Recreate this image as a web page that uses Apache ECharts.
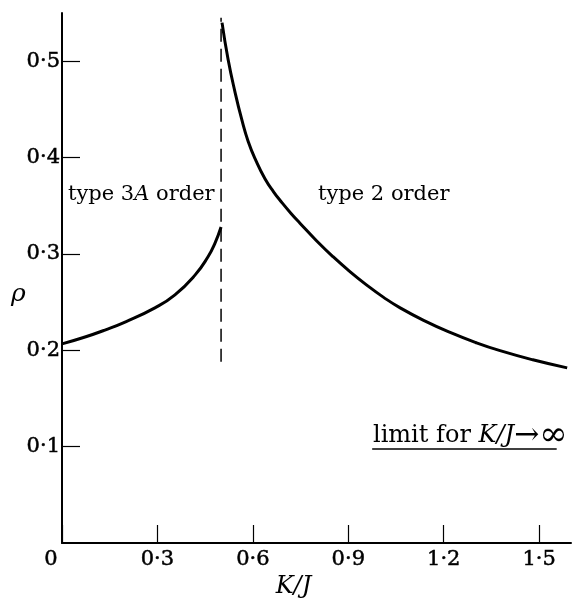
<!DOCTYPE html>
<html>
<head>
<meta charset="utf-8">
<script src="https://cdn.jsdelivr.net/npm/echarts@6/dist/echarts.min.js"></script>
<style>html,body{margin:0;padding:0;background:#fff}#c{width:575px;height:605px}</style>
</head>
<body>
<div id="c"></div>
<script>
// K/J values and rho values
const kLeft = [0, 0.07, 0.135, 0.2, 0.292, 0.355, 0.418, 0.459, 0.48, 0.5];
const rhoLeft = [0.2066, 0.2135, 0.221, 0.2295, 0.244, 0.2575, 0.278, 0.297, 0.3105, 0.328];
const kRight = [0.503, 0.522, 0.544, 0.565, 0.585, 0.61, 0.638, 0.665, 0.692, 0.72, 0.748, 0.80, 0.852, 0.905, 0.959, 1.011, 1.063, 1.14, 1.22, 1.30, 1.377, 1.48, 1.588];
const rhoRight = [0.540, 0.502, 0.4677, 0.4395, 0.4170, 0.3965, 0.3780, 0.3645, 0.3530, 0.3420, 0.3319, 0.3137, 0.2971, 0.2817, 0.2674, 0.2549, 0.2440, 0.2305, 0.2185, 0.2081, 0.1996, 0.1901, 0.1817];
const kBoundary = [0.5, 0.5];
const rhoBoundary = [0.188, 0.545];
const kLimit = [0.975, 1.555];
const rhoLimit = [0.0976, 0.0976];
const xTicks = [0, 0.3, 0.6, 0.9, 1.2, 1.5];
const yTicks = [0.1, 0.2, 0.3, 0.4, 0.5];

const zip = (a, b) => a.map((v, i) => [v, b[i]]);
const fmt = v => (Math.abs(v) < 1e-9 ? '{z|0}' : v.toFixed(1).replace('.', '\u00B7'));
const SERIF = '"DejaVu Serif", "Liberation Serif", serif';
const labelStyle = {fontFamily: SERIF, fontSize: 21, color: '#000', textBorderColor: '#000', textBorderWidth: 0.5};

const chart = echarts.init(document.getElementById('c'), null, {renderer: 'canvas'});
chart.setOption({
  animation: false,
  backgroundColor: '#fff',
  grid: {left: 62, right: 4, top: 13, bottom: 62, containLabel: false},
  xAxis: {
    type: 'value', min: 0, max: 1.6,
    name: 'K/J', nameLocation: 'middle', nameGap: 30,
    nameTextStyle: {fontFamily: SERIF, fontStyle: 'italic', fontSize: 24, color: '#000', padding: [0, 46, 0, 0]},
    axisLine: {show: true, lineStyle: {color: '#000', width: 2}},
    axisTick: {show: true, inside: true, length: 18, customValues: xTicks, lineStyle: {color: '#000', width: 1.2}},
    axisLabel: Object.assign({customValues: xTicks, formatter: fmt, margin: 6,
      rich: {z: Object.assign({}, labelStyle, {padding: [0, 22, 0, 0]})}}, labelStyle),
    splitLine: {show: false}
  },
  yAxis: {
    type: 'value', min: 0, max: 0.55,
    axisLine: {show: true, lineStyle: {color: '#000', width: 2}},
    axisTick: {show: true, inside: true, length: 18, customValues: yTicks, lineStyle: {color: '#000', width: 1.2}},
    axisLabel: Object.assign({customValues: yTicks, formatter: fmt, margin: 2}, labelStyle),
    splitLine: {show: false}
  },
  series: [
    {type: 'line', data: zip(kLeft, rhoLeft), smooth: 0.5, symbol: 'none', lineStyle: {color: '#000', width: 3}},
    {type: 'line', data: zip(kRight, rhoRight), smooth: 0.5, symbol: 'none', lineStyle: {color: '#000', width: 3}},
    {type: 'line', data: zip(kBoundary, rhoBoundary), symbol: 'none', lineStyle: {color: '#000', width: 1.5, type: [13, 7]}},
    {type: 'line', data: zip(kLimit, rhoLimit), symbol: 'none', lineStyle: {color: '#000', width: 1.5}}
  ],
  graphic: [
    {type: 'text', left: 11, top: 282, style: {text: '\u03C1', font: 'italic 25px ' + SERIF, fill: '#000'}},
    {type: 'text', left: 68, top: 184, style: {
      text: 'type 3{i|A} order', font: '21px ' + SERIF, fill: '#000',
      rich: {i: {fontFamily: SERIF, fontSize: 21, fontStyle: 'italic', fill: '#000'}}
    }},
    {type: 'text', left: 318, top: 184, style: {text: 'type 2 order', font: '21px ' + SERIF, fill: '#000'}},
    {type: 'text', left: 373, top: 419, style: {
      text: 'limit for {i|K/J}{a|\u2192}{b|\u221E}', font: '24px ' + SERIF, fill: '#000',
      rich: {
        i: {fontFamily: SERIF, fontSize: 24, fontStyle: 'italic', fill: '#000'},
        a: {fontFamily: SERIF, fontSize: 30, fill: '#000'},
        b: {fontFamily: SERIF, fontSize: 34, fill: '#000'}
      }
    }}
  ]
});
</script>
</body>
</html>
